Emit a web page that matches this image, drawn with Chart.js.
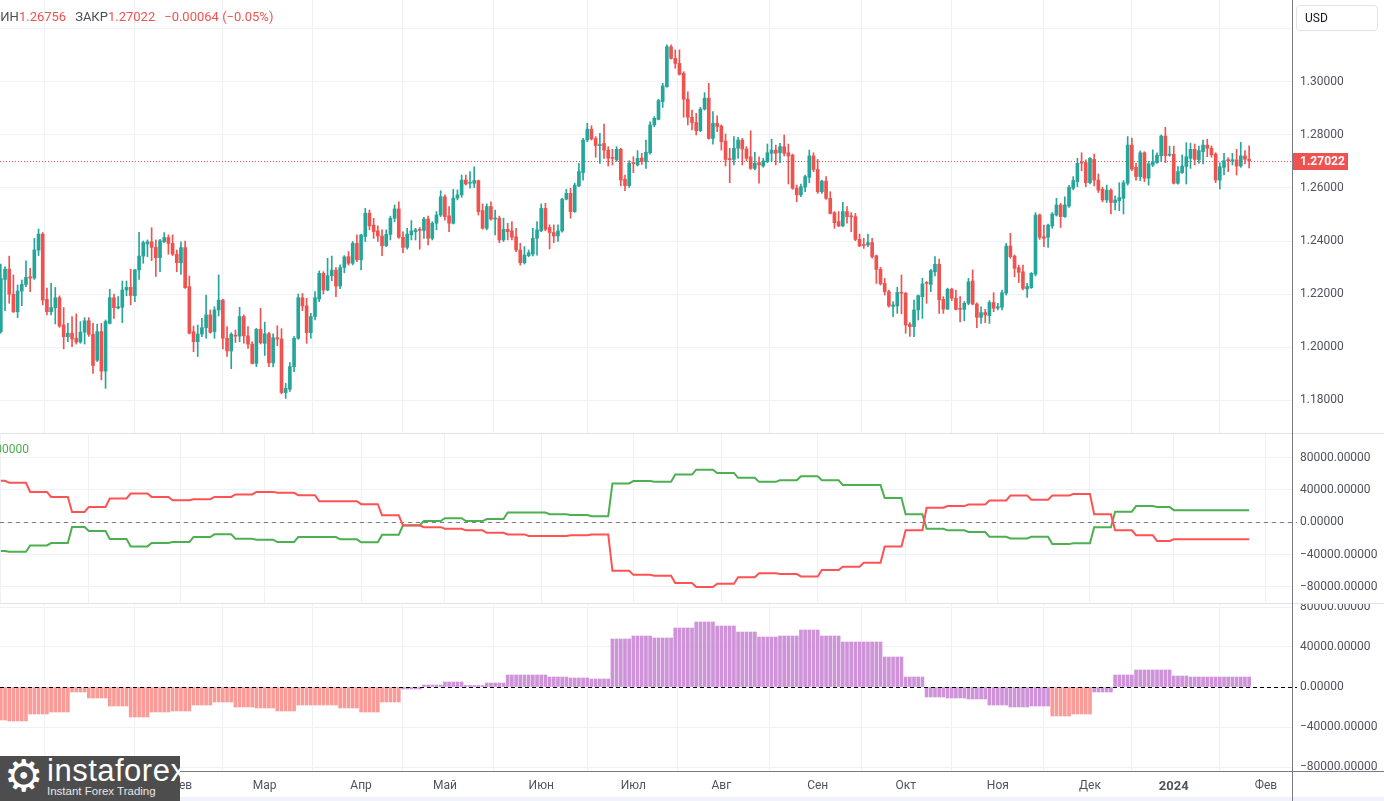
<!DOCTYPE html>
<html>
<head>
<meta charset="utf-8">
<script src="https://cdn.jsdelivr.net/npm/chart.js@4.4.1/dist/chart.umd.min.js"></script>
<style>
  body { margin:0; width:1384px; height:801px; overflow:hidden; position:relative; background:#fff;
         font-family: Roboto, "Liberation Sans", sans-serif; }
  canvas { position:absolute; left:0; }
  .hline { position:absolute; left:0; width:1384px; height:1px; }
  #legend { position:absolute; left:-11px; top:9px; font-size:13px; white-space:nowrap; color:#4a4e59; }
  #legend .v { color:#ef5350; margin-right:9px; }
  #cotTitle { position:absolute; right:1355px; top:442px; font-size:12px; color:#4caf50; white-space:nowrap; }
  #usd { position:absolute; left:1296px; top:5px; width:82px; height:26px; box-sizing:border-box;
         border:1px solid #e0e3eb; border-radius:4px; font-size:12px; line-height:25px; padding-left:8px; color:#131722; }
  #logo { position:absolute; left:0; top:756px; width:180px; height:45px; background:#4d4d4d; color:#fff; overflow:hidden; }
  #logo .gear { position:absolute; left:4px; top:-4px; font-size:44px; line-height:48px; font-family:"DejaVu Sans"; }
  #logo .brand { position:absolute; left:47px; top:-2px; font-size:31px; line-height:34px; font-family:"Liberation Sans Narrow", "Liberation Sans", sans-serif; letter-spacing:0.5px; }
  #logo .tag { position:absolute; left:47px; top:29px; font-size:11.5px; color:#e6e6e6; font-family:"Liberation Sans", sans-serif; }
</style>
</head>
<body>
<canvas id="price" width="1384" height="433" style="top:0"></canvas>
<canvas id="cot" width="1384" height="170" style="top:433px"></canvas>
<canvas id="net" width="1384" height="198" style="top:603px"></canvas>

<div class="hline" style="top:433px;background:#e0e3eb"></div>
<div class="hline" style="top:603px;background:#e0e3eb"></div>
<div class="hline" style="top:771px;background:#787b86"></div>
<div class="hline" style="top:797px;height:4px;background:#f0f3fa"></div>
<div style="position:absolute;left:1292px;top:0;width:1px;height:801px;background:#787b86"></div>

<div id="legend"></div>
<div id="cotTitle">15000.00000</div>
<div id="usd">USD</div>
<div id="logo"><span class="gear">⚙</span><div class="brand">instaforex</div><div class="tag">Instant Forex Trading</div></div>

<script>
// daily candles [open, high, low, close], one row per trading day from 1 Dec 2022
var ohlc = [
[1.2058,1.2313,1.2052,1.2259],[1.2255,1.2303,1.2137,1.2294],[1.2294,1.2343,1.2165,1.2199],[1.2199,1.2272,1.2130,1.2133],
[1.2133,1.2234,1.2111,1.2211],[1.2211,1.2253,1.2156,1.2236],[1.2236,1.2325,1.2228,1.2263],[1.2265,1.2297,1.2209,1.2260],
[1.2260,1.2410,1.2255,1.2366],[1.2366,1.2445,1.2345,1.2426],[1.2426,1.2432,1.2159,1.2177],[1.2180,1.2222,1.2121,1.2133],
[1.2133,1.2240,1.2121,1.2149],[1.2148,1.2225,1.2087,1.2186],[1.2186,1.2193,1.2074,1.2079],[1.2083,1.2149,1.1993,1.2039],
[1.2039,1.2089,1.2020,1.2052],[1.2052,1.2115,1.2001,1.2030],[1.2033,1.2125,1.2011,1.2019],[1.2019,1.2096,1.2014,1.2056],
[1.2056,1.2111,1.2011,1.2099],[1.2099,1.2111,1.2040,1.2048],[1.2048,1.2089,1.1900,1.1930],[1.1950,1.2086,1.1945,1.2058],
[1.2058,1.2089,1.1876,1.1909],[1.1909,1.2102,1.1844,1.2096],[1.2089,1.2218,1.2087,1.2186],[1.2186,1.2200,1.2108,1.2148],
[1.2147,1.2190,1.2144,1.2152],[1.2150,1.2249,1.2092,1.2215],[1.2215,1.2249,1.2193,1.2225],[1.2225,1.2293,1.2159,1.2194],
[1.2194,1.2293,1.2171,1.2291],[1.2291,1.2433,1.2255,1.2343],[1.2343,1.2400,1.2316,1.2394],[1.2389,1.2404,1.2341,1.2397],
[1.2397,1.2450,1.2326,1.2376],[1.2376,1.2404,1.2266,1.2337],[1.2337,1.2406,1.2284,1.2401],[1.2397,1.2432,1.2394,1.2413],
[1.2413,1.2423,1.2350,1.2391],[1.2391,1.2423,1.2345,1.2350],[1.2350,1.2366,1.2284,1.2318],[1.2318,1.2397,1.2274,1.2375],
[1.2375,1.2400,1.2221,1.2224],[1.2228,1.2268,1.2049,1.2052],[1.2058,1.2079,1.1982,1.2020],[1.2020,1.2083,1.1964,1.2049],
[1.2049,1.2108,1.2039,1.2073],[1.2073,1.2196,1.2033,1.2121],[1.2121,1.2140,1.2052,1.2055],[1.2058,1.2152,1.2033,1.2140],
[1.2140,1.2272,1.2117,1.2177],[1.2177,1.2180,1.1993,1.2033],[1.2033,1.2077,1.1964,1.1985],[1.1985,1.2054,1.1918,1.2048],
[1.2045,1.2064,1.2017,1.2041],[1.2041,1.2150,1.2020,1.2115],[1.2115,1.2121,1.2014,1.2042],[1.2042,1.2077,1.1995,1.2011],
[1.2011,1.2020,1.1936,1.1938],[1.1938,1.2070,1.1926,1.2067],[1.2067,1.2146,1.2011,1.2016],[1.2014,1.2094,1.1968,1.2050],
[1.2050,1.2055,1.1926,1.1940],[1.1940,1.2050,1.1925,1.2035],[1.2035,1.2080,1.2005,1.2030],[1.2030,1.2069,1.1823,1.1828],
[1.1828,1.1863,1.1806,1.1844],[1.1841,1.1941,1.1832,1.1926],[1.1926,1.2039,1.1907,1.2033],[1.2033,1.2200,1.2029,1.2186],
[1.2186,1.2202,1.2137,1.2155],[1.2155,1.2184,1.2014,1.2054],[1.2054,1.2127,1.2033,1.2115],[1.2115,1.2209,1.2102,1.2186],
[1.2181,1.2287,1.2171,1.2278],[1.2278,1.2284,1.2200,1.2215],[1.2215,1.2335,1.2212,1.2269],[1.2269,1.2343,1.2250,1.2290],
[1.2290,1.2300,1.2190,1.2230],[1.2230,1.2310,1.2220,1.2300],[1.2300,1.2345,1.2280,1.2340],[1.2341,1.2360,1.2309,1.2316],
[1.2316,1.2398,1.2310,1.2391],[1.2391,1.2423,1.2322,1.2329],[1.2329,1.2425,1.2291,1.2423],[1.2417,1.2523,1.2398,1.2505],
[1.2505,1.2517,1.2442,1.2457],[1.2460,1.2486,1.2410,1.2435],[1.2438,1.2457,1.2398,1.2419],[1.2419,1.2442,1.2345,1.2382],
[1.2382,1.2442,1.2379,1.2425],[1.2425,1.2494,1.2404,1.2486],[1.2486,1.2536,1.2473,1.2521],[1.2521,1.2548,1.2410,1.2414],
[1.2414,1.2435,1.2356,1.2376],[1.2376,1.2448,1.2369,1.2426],[1.2423,1.2477,1.2404,1.2438],[1.2435,1.2448,1.2404,1.2442],
[1.2444,1.2451,1.2369,1.2440],[1.2440,1.2489,1.2410,1.2483],[1.2483,1.2494,1.2385,1.2410],[1.2410,1.2473,1.2404,1.2467],
[1.2467,1.2511,1.2442,1.2498],[1.2498,1.2590,1.2492,1.2567],[1.2567,1.2574,1.2479,1.2492],[1.2495,1.2530,1.2435,1.2467],
[1.2467,1.2595,1.2464,1.2562],[1.2562,1.2593,1.2555,1.2574],[1.2574,1.2649,1.2565,1.2630],[1.2630,1.2649,1.2611,1.2615],
[1.2618,1.2662,1.2599,1.2621],[1.2618,1.2680,1.2602,1.2628],[1.2628,1.2630,1.2498,1.2511],[1.2515,1.2540,1.2445,1.2448],
[1.2448,1.2540,1.2442,1.2530],[1.2530,1.2548,1.2479,1.2483],[1.2483,1.2517,1.2423,1.2486],[1.2486,1.2494,1.2394,1.2404],
[1.2404,1.2486,1.2398,1.2444],[1.2444,1.2467,1.2404,1.2435],[1.2438,1.2473,1.2404,1.2414],[1.2416,1.2448,1.2360,1.2366],
[1.2366,1.2391,1.2309,1.2318],[1.2318,1.2379,1.2313,1.2347],[1.2345,1.2366,1.2341,1.2356],[1.2351,1.2448,1.2344,1.2410],
[1.2410,1.2473,1.2347,1.2442],[1.2439,1.2540,1.2435,1.2523],[1.2523,1.2542,1.2438,1.2444],[1.2451,1.2461,1.2370,1.2432],
[1.2432,1.2461,1.2394,1.2419],[1.2419,1.2461,1.2398,1.2438],[1.2438,1.2561,1.2433,1.2558],[1.2558,1.2595,1.2555,1.2580],
[1.2580,1.2599,1.2486,1.2511],[1.2511,1.2618,1.2508,1.2611],[1.2608,1.2693,1.2605,1.2662],[1.2658,1.2787,1.2630,1.2781],
[1.2781,1.2844,1.2775,1.2822],[1.2822,1.2835,1.2781,1.2785],[1.2787,1.2794,1.2716,1.2760],[1.2760,1.2806,1.2693,1.2764],
[1.2768,1.2841,1.2712,1.2743],[1.2743,1.2756,1.2683,1.2712],[1.2715,1.2746,1.2687,1.2712],[1.2706,1.2756,1.2700,1.2746],
[1.2746,1.2750,1.2608,1.2630],[1.2633,1.2649,1.2590,1.2609],[1.2609,1.2703,1.2602,1.2693],[1.2696,1.2718,1.2658,1.2692],
[1.2687,1.2741,1.2683,1.2712],[1.2713,1.2731,1.2689,1.2699],[1.2699,1.2781,1.2674,1.2735],[1.2733,1.2850,1.2728,1.2838],
[1.2838,1.2869,1.2831,1.2863],[1.2859,1.2935,1.2857,1.2930],[1.2926,1.2995,1.2904,1.2985],[1.2982,1.3140,1.2980,1.3133],
[1.3133,1.3140,1.3086,1.3089],[1.3089,1.3121,1.3052,1.3070],[1.3070,1.3121,1.3026,1.3029],[1.3033,1.3039,1.2867,1.2935],
[1.2935,1.2963,1.2838,1.2867],[1.2867,1.2894,1.2819,1.2847],[1.2847,1.2882,1.2800,1.2816],[1.2816,1.2904,1.2813,1.2898],
[1.2898,1.2960,1.2894,1.2939],[1.2939,1.2995,1.2784,1.2787],[1.2787,1.2888,1.2765,1.2844],[1.2844,1.2872,1.2813,1.2832],
[1.2834,1.2838,1.2743,1.2775],[1.2777,1.2804,1.2683,1.2708],[1.2710,1.2750,1.2620,1.2707],[1.2708,1.2794,1.2687,1.2750],
[1.2750,1.2791,1.2712,1.2781],[1.2781,1.2787,1.2687,1.2747],[1.2747,1.2756,1.2703,1.2712],[1.2718,1.2816,1.2670,1.2674],
[1.2674,1.2735,1.2668,1.2693],[1.2696,1.2718,1.2618,1.2687],[1.2683,1.2712,1.2678,1.2702],[1.2699,1.2766,1.2696,1.2733],
[1.2731,1.2784,1.2699,1.2743],[1.2743,1.2762,1.2687,1.2731],[1.2733,1.2769,1.2696,1.2756],[1.2756,1.2800,1.2721,1.2731],
[1.2733,1.2766,1.2615,1.2721],[1.2724,1.2728,1.2595,1.2599],[1.2599,1.2611,1.2548,1.2574],[1.2574,1.2615,1.2567,1.2605],
[1.2603,1.2649,1.2586,1.2643],[1.2640,1.2743,1.2620,1.2721],[1.2721,1.2733,1.2662,1.2670],[1.2670,1.2708,1.2580,1.2586],
[1.2586,1.2630,1.2580,1.2626],[1.2626,1.2643,1.2557,1.2561],[1.2561,1.2586,1.2502,1.2504],[1.2507,1.2511,1.2448,1.2469],
[1.2473,1.2511,1.2454,1.2457],[1.2457,1.2546,1.2454,1.2511],[1.2511,1.2530,1.2467,1.2492],[1.2494,1.2507,1.2435,1.2491],
[1.2492,1.2504,1.2401,1.2406],[1.2406,1.2426,1.2379,1.2381],[1.2386,1.2410,1.2372,1.2383],[1.2385,1.2426,1.2379,1.2394],
[1.2394,1.2410,1.2335,1.2341],[1.2344,1.2347,1.2240,1.2293],[1.2293,1.2301,1.2234,1.2238],[1.2240,1.2259,1.2196,1.2209],
[1.2209,1.2215,1.2150,1.2155],[1.2153,1.2171,1.2114,1.2159],[1.2155,1.2225,1.2127,1.2206],[1.2206,1.2272,1.2125,1.2203],
[1.2203,1.2206,1.2052,1.2083],[1.2085,1.2092,1.2040,1.2077],[1.2077,1.2177,1.2039,1.2140],[1.2140,1.2196,1.2102,1.2194],
[1.2190,1.2259,1.2108,1.2238],[1.2242,1.2247,1.2165,1.2240],[1.2236,1.2293,1.2209,1.2288],[1.2284,1.2341,1.2268,1.2312],
[1.2312,1.2332,1.2127,1.2178],[1.2180,1.2190,1.2127,1.2143],[1.2143,1.2222,1.2142,1.2218],[1.2218,1.2222,1.2175,1.2184],
[1.2184,1.2215,1.2140,1.2142],[1.2144,1.2190,1.2095,1.2142],[1.2142,1.2171,1.2099,1.2165],[1.2165,1.2259,1.2159,1.2246],
[1.2249,1.2291,1.2159,1.2162],[1.2162,1.2167,1.2073,1.2112],[1.2112,1.2152,1.2089,1.2130],[1.2130,1.2142,1.2092,1.2121],
[1.2118,1.2175,1.2089,1.2168],[1.2168,1.2205,1.2133,1.2146],[1.2147,1.2165,1.2140,1.2152],[1.2150,1.2215,1.2140,1.2205],
[1.2203,1.2391,1.2196,1.2381],[1.2381,1.2429,1.2335,1.2341],[1.2343,1.2347,1.2265,1.2297],[1.2299,1.2309,1.2243,1.2282],
[1.2284,1.2309,1.2215,1.2221],[1.2219,1.2240,1.2187,1.2228],[1.2224,1.2281,1.2221,1.2278],[1.2275,1.2507,1.2268,1.2498],
[1.2498,1.2502,1.2406,1.2414],[1.2416,1.2460,1.2379,1.2410],[1.2414,1.2464,1.2376,1.2460],[1.2457,1.2507,1.2448,1.2502],
[1.2498,1.2561,1.2494,1.2536],[1.2536,1.2542,1.2451,1.2492],[1.2492,1.2567,1.2489,1.2536],[1.2532,1.2610,1.2527,1.2603],
[1.2599,1.2643,1.2593,1.2628],[1.2624,1.2712,1.2605,1.2693],[1.2697,1.2733,1.2665,1.2694],[1.2696,1.2706,1.2605,1.2620],
[1.2620,1.2715,1.2615,1.2712],[1.2708,1.2728,1.2608,1.2630],[1.2630,1.2653,1.2583,1.2592],[1.2595,1.2603,1.2548,1.2555],
[1.2555,1.2611,1.2545,1.2592],[1.2592,1.2597,1.2502,1.2545],[1.2545,1.2570,1.2517,1.2555],[1.2552,1.2620,1.2514,1.2564],
[1.2561,1.2628,1.2502,1.2620],[1.2618,1.2794,1.2611,1.2762],[1.2762,1.2788,1.2665,1.2671],[1.2678,1.2693,1.2630,1.2643],
[1.2643,1.2740,1.2628,1.2733],[1.2733,1.2737,1.2624,1.2637],[1.2637,1.2700,1.2611,1.2691],[1.2687,1.2744,1.2681,1.2700],
[1.2696,1.2733,1.2693,1.2724],[1.2722,1.2800,1.2700,1.2796],[1.2796,1.2829,1.2696,1.2722],[1.2724,1.2758,1.2720,1.2727],
[1.2727,1.2758,1.2615,1.2618],[1.2618,1.2681,1.2614,1.2662],[1.2658,1.2725,1.2655,1.2683],[1.2681,1.2771,1.2615,1.2718],
[1.2712,1.2769,1.2674,1.2746],[1.2746,1.2766,1.2687,1.2708],[1.2706,1.2758,1.2693,1.2741],[1.2737,1.2781,1.2691,1.2762],
[1.2762,1.2784,1.2718,1.2750],[1.2750,1.2759,1.2716,1.2725],[1.2728,1.2733,1.2620,1.2630],[1.2630,1.2695,1.2596,1.2680],
[1.2678,1.2731,1.2649,1.2703],[1.2706,1.2714,1.2662,1.2703],[1.2703,1.2731,1.2687,1.2706],[1.2706,1.2746,1.2649,1.2683],
[1.2683,1.2772,1.2678,1.2721],[1.2721,1.2741,1.2691,1.27086],[1.27086,1.2759,1.26756,1.27022]
];

// weekly COT values, one per trading week starting with the week of 1 Dec 2022
var cotGreen = [-35500,-36500,-28600,-25700,-5800,-10800,-20700,-29800,-25700,-24400,
  -18200,-14900,-20300,-21500,-24400,-18200,-18200,-21100,-24800,-15300,
  -3700,1500,5000,1500,4000,12000,12000,10000,9000,7500,
  48000,51000,50000,59000,65000,61000,55000,50000,52000,57000,
  52000,46000,46000,30000,10000,-8000,-10000,-12000,-18000,-20000,
  -18000,-27000,-26000,-6000,13000,20000,19000,15000,15000,15000,15000];
var cotRed = [51300,48800,37600,31400,12800,19000,29400,35600,31400,27300,
  28600,31400,34400,37600,36400,33500,26100,26100,22400,8700,
  -4000,-6000,-8000,-10000,-13000,-15000,-17000,-17000,-16000,-15000,
  -60000,-65000,-66000,-75000,-80000,-76000,-68000,-63000,-64000,-67000,
  -59000,-55000,-50000,-30000,-10000,18000,20000,22000,27000,33000,
  28000,33000,35000,10000,-10000,-16000,-23000,-21000,-21000,-21000,-21000];
var netHist = [-33000,-34000,-27000,-25000,-5000,-11000,-19000,-30000,-25000,-24000,
  -18000,-15000,-20000,-21000,-24000,-18000,-18000,-21000,-25000,-15000,
  -2000,2000,5000,1500,4000,12000,12000,10000,9000,8000,
  48000,51000,49000,59000,65000,61000,55000,50000,51000,57000,
  51000,45000,45000,30000,10000,-10000,-11000,-12000,-18000,-20000,
  -19000,-29000,-27000,-5000,12000,17000,17000,11000,10000,10000,10000];
// week ranges whose histogram bars are drawn in the salmon colour
var salmonWeeks = [[0, 19], [51, 52]];

var priceTicks = [1.18, 1.20, 1.22, 1.24, 1.26, 1.28, 1.30, 1.32];
var cotTicks = [-80000, -40000, 0, 40000, 80000];
var monthNames = ['Янв','Фев','Мар','Апр','Май','Июн','Июл','Авг','Сен','Окт','Ноя','Дек'];
var holidays = ['2022-12-26', '2023-12-25', '2024-01-01'];

// trading sessions (weekdays without the skipped holidays)
var sessions = [];
(function () {
  var d = new Date(Date.UTC(2022, 11, 1));
  while (sessions.length < 310) {
    var wd = d.getUTCDay(), iso = d.toISOString().slice(0, 10);
    if (wd !== 0 && wd !== 6 && holidays.indexOf(iso) < 0) sessions.push(new Date(d));
    d.setUTCDate(d.getUTCDate() + 1);
  }
})();

// week number of each session and month start ticks
var weekOf = [], monthTicks = [], tickLabel = {};
(function () {
  var w = -1, lastKey = null;
  sessions.forEach(function (d, i) {
    var m = new Date(d); m.setUTCDate(m.getUTCDate() - (d.getUTCDay() + 6) % 7);
    var key = m.toISOString().slice(0, 10);
    if (key !== lastKey) { w++; lastKey = key; }
    weekOf.push(w);
    if (i === 0 || d.getUTCMonth() !== sessions[i - 1].getUTCMonth()) {
      monthTicks.push(i);
      tickLabel[i] = d.getUTCMonth() === 0 ? String(d.getUTCFullYear()) : monthNames[d.getUTCMonth()];
    }
  });
})();

var X_MIN = -0.2, X_MAX = 308.23;
var FAMILY = 'Roboto, "Liberation Sans", sans-serif';
var GRID = '#eef1f6', TEXT = '#50535e';
var upColor = '#26a69a', downColor = '#ef5350';

var last = ohlc[ohlc.length - 1], prevClose = ohlc[ohlc.length - 2][3];
var lastClose = last[3];

function minus(s) { return s.replace('-', '\u2212'); }

function xScale(labels) {
  return {
    type: 'linear', min: X_MIN, max: X_MAX, offset: false,
    afterBuildTicks: function (s) { s.ticks = monthTicks.map(function (v) { return { value: v }; }); },
    ticks: {
      display: labels, autoSkip: false, maxRotation: 0, padding: 8, color: TEXT,
      font: function (c) {
        var yr = c.tick && /^\d{4}$/.test(tickLabel[c.tick.value] || '');
        return { family: FAMILY, size: yr ? 13 : 12, weight: yr ? 'bold' : 'normal' };
      },
      callback: function (v) { return tickLabel[v] || ''; }
    },
    grid: { color: GRID, drawTicks: false },
    border: { display: false },
    afterFit: function (s) { s.height = labels ? 30 : 0; s.paddingLeft = 0; s.paddingRight = 0; }
  };
}

function yScale(min, max, ticks, fmt) {
  return {
    position: 'right', min: min, max: max,
    afterBuildTicks: function (s) { s.ticks = ticks.map(function (v) { return { value: v }; }); },
    ticks: { padding: 8, color: TEXT, font: { family: FAMILY, size: 12 }, callback: fmt },
    grid: { color: GRID, drawTicks: false },
    border: { display: false },
    afterFit: function (s) { s.width = 92; s.paddingTop = 0; s.paddingBottom = 0; }
  };
}

function baseOptions(scales) {
  return {
    responsive: false, animation: false, events: [],
    layout: { padding: 0, autoPadding: false },
    plugins: { legend: { display: false }, tooltip: { enabled: false } },
    scales: scales
  };
}

// price pane
var candleColors = ohlc.map(function (c) { return c[3] >= c[0] ? upColor : downColor; });

var lastPricePlugin = {
  id: 'lastPrice',
  beforeDatasetsDraw: function (chart) {
    var ctx = chart.ctx, a = chart.chartArea, y = Math.round(chart.scales.y.getPixelForValue(lastClose)) + 0.5;
    ctx.save(); ctx.strokeStyle = downColor; ctx.lineWidth = 1; ctx.setLineDash([1, 2]);
    ctx.beginPath(); ctx.moveTo(a.left, y); ctx.lineTo(a.right, y); ctx.stroke(); ctx.restore();
  },
  afterDraw: function (chart) {
    var ctx = chart.ctx, a = chart.chartArea, y = Math.round(chart.scales.y.getPixelForValue(lastClose));
    ctx.save(); ctx.fillStyle = downColor; ctx.fillRect(a.right, y - 8, 56, 17);
    ctx.fillStyle = '#fff'; ctx.font = 'bold 12px ' + FAMILY; ctx.textBaseline = 'middle';
    ctx.fillText(lastClose.toFixed(5), a.right + 8, y + 1); ctx.restore();
  }
};

new Chart(document.getElementById('price'), {
  type: 'bar',
  data: {
    datasets: [
      { data: ohlc.map(function (c, i) { return { x: i, y: [c[2], c[1]] }; }),
        backgroundColor: candleColors, barThickness: 1, grouped: false },
      { data: ohlc.map(function (c, i) { return { x: i, y: [c[0], c[3]] }; }),
        backgroundColor: candleColors, barThickness: 3, minBarLength: 1, grouped: false }
    ]
  },
  options: baseOptions({
    x: xScale(false),
    y: yScale(1.16755, 1.33094, priceTicks, function (v) { return v > 1.31 ? '' : v.toFixed(5); })
  }),
  plugins: [lastPricePlugin]
});

function zeroLine(color, dash, after) {
  var draw = function (chart) {
    var ctx = chart.ctx, a = chart.chartArea, y = Math.round(chart.scales.y.getPixelForValue(0)) + 0.5;
    ctx.save(); ctx.strokeStyle = color; ctx.lineWidth = 1; ctx.setLineDash(dash);
    ctx.beginPath(); ctx.moveTo(a.left, y); ctx.lineTo(a.right + 5, y); ctx.stroke(); ctx.restore();
  };
  return after ? { id: 'zeroA', afterDatasetsDraw: draw } : { id: 'zeroB', beforeDatasetsDraw: draw };
}
var cotFmt = function (v) { return minus(v.toFixed(5)); };

// COT lines pane
new Chart(document.getElementById('cot'), {
  type: 'line',
  data: {
    datasets: [
      { data: ohlc.map(function (c, i) { return { x: i, y: cotRed[weekOf[i]] }; }),
        borderColor: '#ff5252', borderWidth: 2, pointRadius: 0, tension: 0 },
      { data: ohlc.map(function (c, i) { return { x: i, y: cotGreen[weekOf[i]] }; }),
        borderColor: '#4caf50', borderWidth: 2, pointRadius: 0, tension: 0 }
    ]
  },
  options: baseOptions({ x: xScale(false), y: yScale(-99800, 110400, cotTicks, cotFmt) }),
  plugins: [zeroLine('#787b86', [4, 4], false)]
});

// net position histogram pane
function isSalmon(w) {
  return salmonWeeks.some(function (r) { return w >= r[0] && w <= r[1]; });
}
new Chart(document.getElementById('net'), {
  type: 'bar',
  data: {
    datasets: [
      { data: ohlc.map(function (c, i) { return { x: i, y: netHist[weekOf[i]] }; }),
        backgroundColor: ohlc.map(function (c, i) { return isSalmon(weekOf[i]) ? '#fb9b98' : '#ce93d8'; }),
        barThickness: 3, grouped: false }
    ]
  },
  options: baseOptions({ x: xScale(true), y: yScale(-84000, 84000, cotTicks, cotFmt) }),
  plugins: [zeroLine('#000000', [4, 3], true)]
});

// header legend
var chg = lastClose - prevClose, pct = chg / prevClose * 100;
document.getElementById('legend').innerHTML =
  '<span>МИН</span><span class="v">' + last[2].toFixed(5) + '</span>' +
  '<span>ЗАКР</span><span class="v">' + lastClose.toFixed(5) + '</span>' +
  '<span class="v">' + minus(chg.toFixed(5)) + ' (' + minus(pct.toFixed(2)) + '%)</span>';
</script>
</body>
</html>
